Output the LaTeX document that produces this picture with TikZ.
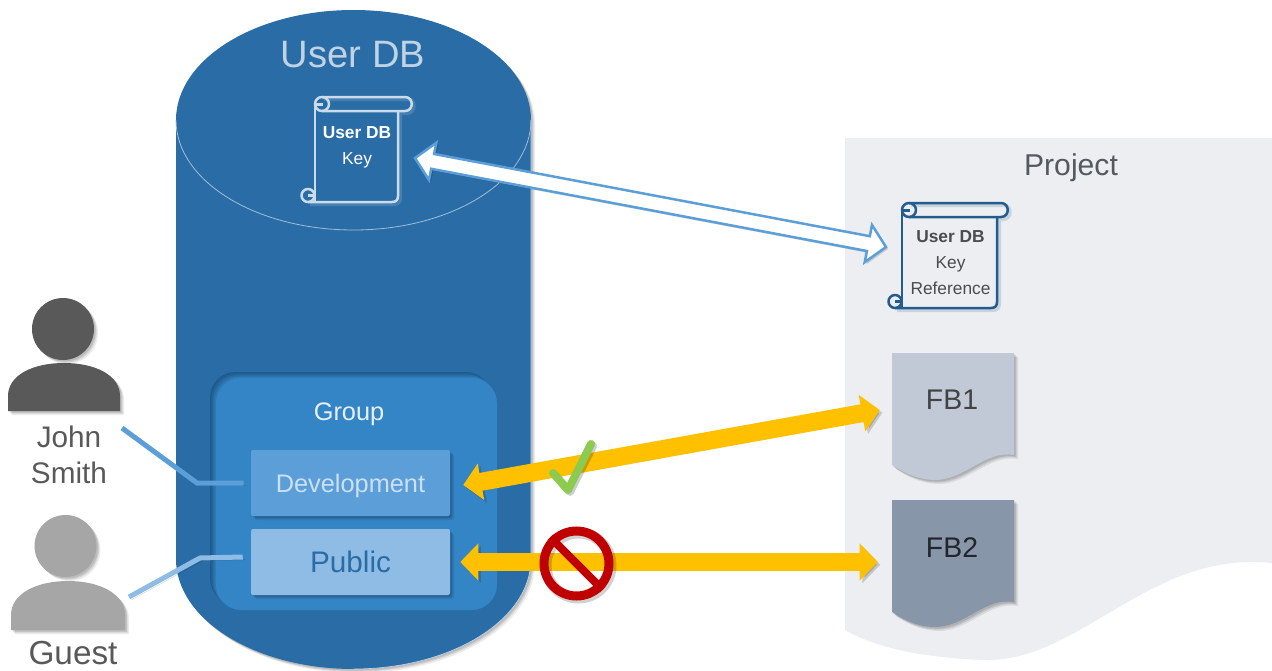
\documentclass[tikz,border=0pt]{standalone}
\usepackage{fontspec}
\setmainfont{Liberation Sans}
\usetikzlibrary{shadows,arrows.meta,calc}
\def\pxu{0.75pt}
\newcommand{\fsz}[1]{\fontsize{#1}{#1}\selectfont}
\definecolor{cyl}{HTML}{2A6DA6}
\definecolor{grp}{HTML}{3485C6}
\definecolor{devc}{HTML}{5C9FD8}
\definecolor{pubc}{HTML}{8FBCE4}
\definecolor{page}{HTML}{ECEEF2}
\definecolor{amber}{HTML}{FFC000}
\definecolor{fbone}{HTML}{C0C9D5}
\definecolor{fbtwo}{HTML}{8896AA}
\definecolor{banred}{HTML}{C00000}
\definecolor{chkgreen}{HTML}{8CCB50}
\definecolor{inshade}{HTML}{1F5A8C}
\tikzset{
  softshadow/.style={
    drop shadow={shadow xshift=1.2pt,shadow yshift=-1.2pt,opacity=.10,fill=black},
    drop shadow={shadow xshift=2pt,shadow yshift=-2pt,opacity=.10,fill=black},
    drop shadow={shadow xshift=3pt,shadow yshift=-3pt,opacity=.08,fill=black}},
  innerdark/.style={
    drop shadow={shadow xshift=-4.5pt,shadow yshift=4.5pt,opacity=1,fill=inshade},
    drop shadow={shadow xshift=-3.4pt,shadow yshift=3.4pt,opacity=1,fill=inshade!80!grp},
    drop shadow={shadow xshift=-2.3pt,shadow yshift=2.3pt,opacity=1,fill=inshade!55!grp},
    drop shadow={shadow xshift=-1.2pt,shadow yshift=1.2pt,opacity=1,fill=inshade!28!grp}},
  linesh/.style={preaction={draw=black,opacity=.16,transform canvas={xshift=2pt,yshift=-2pt}}},
  lbl/.style={inner sep=0pt,align=center},
  rolebox/.style={rectangle,rounded corners=1.5pt,inner sep=0pt,minimum width=199*\pxu,minimum height=66*\pxu,softshadow},
  bigarrow/.style={line width=18*\pxu,draw=amber,{Triangle[length=13.5pt,width=27pt]}-{Triangle[length=13.5pt,width=27pt]},linesh},
  link/.style={line width=5*\pxu,line join=round,linesh},
  scrollline/.style={line width=2.5*\pxu,line join=round},
}
% scroll outline; arguments: colour, body width, roll width, height
\newcommand{\scrollshape}[4]{%
  \draw[#1,line width=4*\pxu,opacity=.18,line join=round,transform canvas={xshift=1.5pt,yshift=-1.5pt}]
     (7,0) -- (#3-7,0) .. controls (#3+2,0) and (#3+2,14) .. (#3-7,14) -- (#2,14) -- (#2,#4-6) .. controls (#2,#4-2) and (#2-2,#4) .. (#2-6,#4) -- (-7,#4);
  \draw[scrollline,#1] (7,0) -- (#3-7,0) .. controls (#3+2,0) and (#3+2,14) .. (#3-7,14) -- (7,14);
  \draw[scrollline,#1] (7,7) circle[radius=7];
  \draw[scrollline,#1] (1,7.5) -- (8,7.5);
  \draw[scrollline,#1] (#2,14) -- (#2,#4-6) .. controls (#2,#4-2) and (#2-2,#4) .. (#2-6,#4) -- (-7,#4);
  \draw[scrollline,#1] (0,7) -- (0,#4);
  \draw[scrollline,#1] (-7,#4-6.5) circle[radius=6.5];
  \draw[scrollline,#1] (-7,#4-6.5) -- (-1,#4-6.5);
}
\begin{document}
\begin{tikzpicture}[x=\pxu,y=-\pxu]
\useasboundingbox (0,0) rectangle (1272,671);
\fill[white] (0,0) rectangle (1272,671);

% project page
\fill[page] (845,138) -- (1272,138) -- (1272,563) .. controls (1150,550) and (1080,662) .. (985,660)
  .. controls (930,658) and (880,650) .. (845,630) -- cycle;
\node[lbl,text=black!70!cyl!40!gray,font=\fsz{22.6pt}] (projtitle) at (1071,168) {Project};

% cylinder
\path[fill=cyl,softshadow] (176,120) .. controls (176,59.25) and (255.5,10) .. (353.5,10)
  .. controls (451.5,10) and (531,59.25) .. (531,120) -- (531,559)
  .. controls (531,619.75) and (451.5,669) .. (353.5,669)
  .. controls (255.5,669) and (176,619.75) .. (176,559) -- cycle;
\draw[white!70!cyl,line width=.5pt] (531,120) -- (531,559)
  .. controls (531,619.75) and (451.5,669) .. (353.5,669);
\draw[white!55!cyl,line width=.6pt] (176,120) .. controls (176,180.75) and (255.5,230) .. (353.5,230)
  .. controls (451.5,230) and (531,180.75) .. (531,120);
\node[lbl,text=white!70!cyl,font=\fsz{28.6pt}] (dbtitle) at (353,55) {User DB};

% group
\node[rectangle,rounded corners=19pt,fill=grp,inner sep=0pt,minimum width=281*\pxu,minimum height=232*\pxu,innerdark] (group) at (356.5,494) {};
\node[lbl,text=white!88!grp,font=\fsz{19pt}] (grouptitle) at (349,414) {Group};
\node[rolebox,fill=devc,text=white!68!devc,font=\fsz{19pt},text height=18.3pt,text depth=4pt] (dev) at (350.5,483) {Development};
\node[rolebox,fill=pubc,text=cyl,font=\fsz{22.3pt}] (pub) at (350.5,562) {Public};

% scrolls
\begin{scope}[shift={(315,97)}]
  \scrollshape{white!75!cyl}{83}{97}{105}
\end{scope}
\node[lbl,text=white,font=\fsz{13pt}] (keytext) at (357,147.5) {\textbf{User DB}\\[6pt]Key};
\begin{scope}[shift={(902,203)}]
  \scrollshape{cyl!85!black}{95}{106}{105}
\end{scope}
\node[lbl,text=black!68!page,font=\fsz{13pt}] (reftext) at (950.5,263) {\textbf{User DB}\\[6.5pt]Key\\[6.5pt]Reference};

% white double arrow
\coordinate (keytip) at (415,158);
\coordinate (reftip) at (886,247);
\path[draw=devc,fill=white,line width=2.5*\pxu,line join=miter,
  drop shadow={shadow xshift=1.5pt,shadow yshift=-1.5pt,opacity=.15,fill=black}]
  (keytip) -- ($(keytip)+(21.3,-15.2)$) -- ($(keytip)+(19.1,-4)$)
  -- ($(reftip)+(-16.2,-10.8)$) -- ($(reftip)+(-14,-22)$) -- (reftip)
  -- ($(reftip)+(-21.3,15.2)$) -- ($(reftip)+(-19.1,4)$)
  -- ($(keytip)+(16.2,10.8)$) -- ($(keytip)+(14,22)$) -- cycle;

% function blocks
\path[fill=fbone,softshadow] (892,353) -- (1014,353) -- (1014,455) .. controls (985,450) and (965,480) .. (935,480)
  .. controls (920,480) and (905,474) .. (892,465) -- cycle;
\node[lbl,text=black!72!page,font=\fsz{21.3pt},minimum width=122*\pxu] (fb1) at (952,400) {FB1};
\path[fill=fbtwo,softshadow] (892,500) -- (1014,500) -- (1014,602) .. controls (985,597) and (965,627) .. (935,627)
  .. controls (920,627) and (905,621) .. (892,612) -- cycle;
\node[lbl,text=black!75!fbtwo,font=\fsz{21.3pt},minimum width=122*\pxu] (fb2) at (952,548) {FB2};

% access arrows
\draw[bigarrow] ($(dev.east)+(13,2)$) -- ($(fb1.west)+(-11,10)$);
\draw[bigarrow] ($(pub.east)+(10,0)$) -- ($(fb2.west)+(-13,14)$);

% check mark
\coordinate (chka) at (553,473);
\coordinate (chkb) at (568,490);
\coordinate (chkc) at (591,444);
\draw[line width=8*\pxu,draw=black,draw opacity=.2,line cap=round,line join=round,transform canvas={xshift=1.5pt,yshift=-1.5pt}] (chka) -- (chkb) -- (chkc);
\draw[line width=8*\pxu,draw=chkgreen,line cap=round,line join=round] (chka) -- (chkb) -- (chkc);

% prohibition sign
\draw[line width=11*\pxu,draw=black,draw opacity=.18,transform canvas={xshift=1.5pt,yshift=-1.5pt}] (576.5,563.5) circle[radius=32.5];
\node[circle,draw=banred,line width=9*\pxu,minimum size=65*\pxu,inner sep=0pt] (ban) at (576.5,563.5) {};
\draw[banred,line width=8*\pxu] (ban.135) -- (ban.-45);

% people
\path[fill=black!65,softshadow] (8,411) -- (8,396) .. controls (8,375) and (33,363) .. (64,363) .. controls (95,363) and (120,375) .. (120,396) -- (120,411) -- cycle;
\node[circle,fill=black!65,minimum size=62*\pxu,inner sep=0pt,softshadow] (johnhead) at (63,329) {};
\node[lbl,text=black!65,font=\fsz{22.3pt}] (johnlabel) at (69,455) {John\\[4.5pt]Smith};
\path[fill=black!35,softshadow] (11,630) -- (11,615) .. controls (11,594) and (36,581) .. (68,581) .. controls (100,581) and (125,594) .. (125,615) -- (125,630) -- cycle;
\node[circle,fill=black!35,minimum size=62*\pxu,inner sep=0pt,softshadow] (guesthead) at (65.5,546) {};
\node[lbl,text=black!65,font=\fsz{25pt}] (guestlabel) at (73,653) {Guest};

% user links
\coordinate (johnend) at (122,428);
\coordinate (guestend) at (129,597);
\draw[link,draw=devc] (johnend) -- (197,483) -- ($(dev.west)+(-7,0)$);
\draw[link,draw=pubc] (guestend) -- (200,558) -- ($(pub.west)+(-8,-5)$);
\end{tikzpicture}
\end{document}
